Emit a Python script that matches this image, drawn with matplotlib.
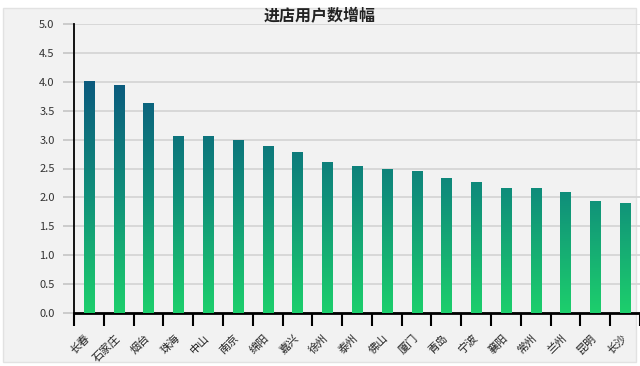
import numpy as np
import matplotlib
matplotlib.use("Agg")
import matplotlib.pyplot as plt
import matplotlib.transforms as mtransforms
from matplotlib.colors import LinearSegmentedColormap
from matplotlib.patches import Rectangle

plt.rcParams['font.family'] = ['Noto Sans CJK SC', 'DejaVu Sans']

cities = ['长春', '石家庄', '烟台', '珠海', '中山', '南京', '绵阳', '嘉兴', '徐州', '泰州',
          '佛山', '厦门', '青岛', '宁波', '襄阳', '常州', '兰州', '昆明', '长沙']
growth = [4.01, 3.94, 3.63, 3.06, 3.06, 2.99, 2.89, 2.79, 2.62, 2.54,
          2.49, 2.46, 2.33, 2.26, 2.17, 2.16, 2.09, 1.93, 1.90]
yticks = [0.0, 0.5, 1.0, 1.5, 2.0, 2.5, 3.0, 3.5, 4.0, 4.5, 5.0]

fig = plt.figure(figsize=(6.4, 3.66), dpi=100, facecolor='white')
# grey panel behind the chart
fig.patches.append(Rectangle((3/640, 4/366), 633/640, 354/366, transform=fig.transFigure,
                             facecolor='#f2f2f2', edgecolor='#e2e2e2', lw=1, zorder=-10))

ax = fig.add_axes([74/640, 53/366, 566/640, 289/366])
ax.set_facecolor('none')

x = np.arange(len(cities))
w = 0.34
cmap = LinearSegmentedColormap.from_list('g', ['#1dcf6c', '#10907a', '#0b5a7e'])
vmax = max(growth)
grad = np.linspace(1, 0, 256).reshape(-1, 1)

bars = ax.bar(x, growth, width=w, color='none', zorder=3)
for b in bars:
    im = ax.imshow(grad, cmap=cmap, aspect='auto', zorder=3,
                   extent=[b.get_x(), b.get_x() + b.get_width(), 0, vmax])
    im.set_clip_path(b)

ax.set_xlim(-0.5, len(cities) - 0.5)
ax.set_ylim(0, 5)
ax.set_yticks(yticks)
ax.set_yticklabels([f'{v:.1f}' for v in yticks])
ax.grid(axis='y', color='#d6d6d6', lw=1.3, zorder=0)

ax.set_xticks(np.arange(-0.5, len(cities), 1))
ax.set_xticklabels([])
ax.set_xticks(x, minor=True)
ax.set_xticklabels(cities, minor=True, rotation=45, ha='right', va='top',
                   rotation_mode='anchor', fontsize=8, color='#222222')
ax.tick_params(axis='x', which='major', length=9, width=1.5, color='black')
ax.tick_params(axis='x', which='minor', length=0, pad=14)
ax.tick_params(axis='y', length=8, width=1.3, color='#c8c8c8', pad=6,
               labelsize=8, labelcolor='#333333')

# nudge the rotated city names a bit to the left
shift = mtransforms.ScaledTranslation(-4/100, 0, fig.dpi_scale_trans)
for lbl in ax.get_xticklabels(minor=True):
    lbl.set_transform(lbl.get_transform() + shift)

for s in ['top', 'right']:
    ax.spines[s].set_visible(False)
ax.spines['left'].set_linewidth(1.3)
ax.spines['bottom'].set_linewidth(2)

fig.text(0.5, 350/366, '进店用户数增幅', ha='center', va='center',
         fontsize=11.5, fontweight='bold', color='#222222')

fig.savefig('out.png', dpi=100, facecolor='white')
